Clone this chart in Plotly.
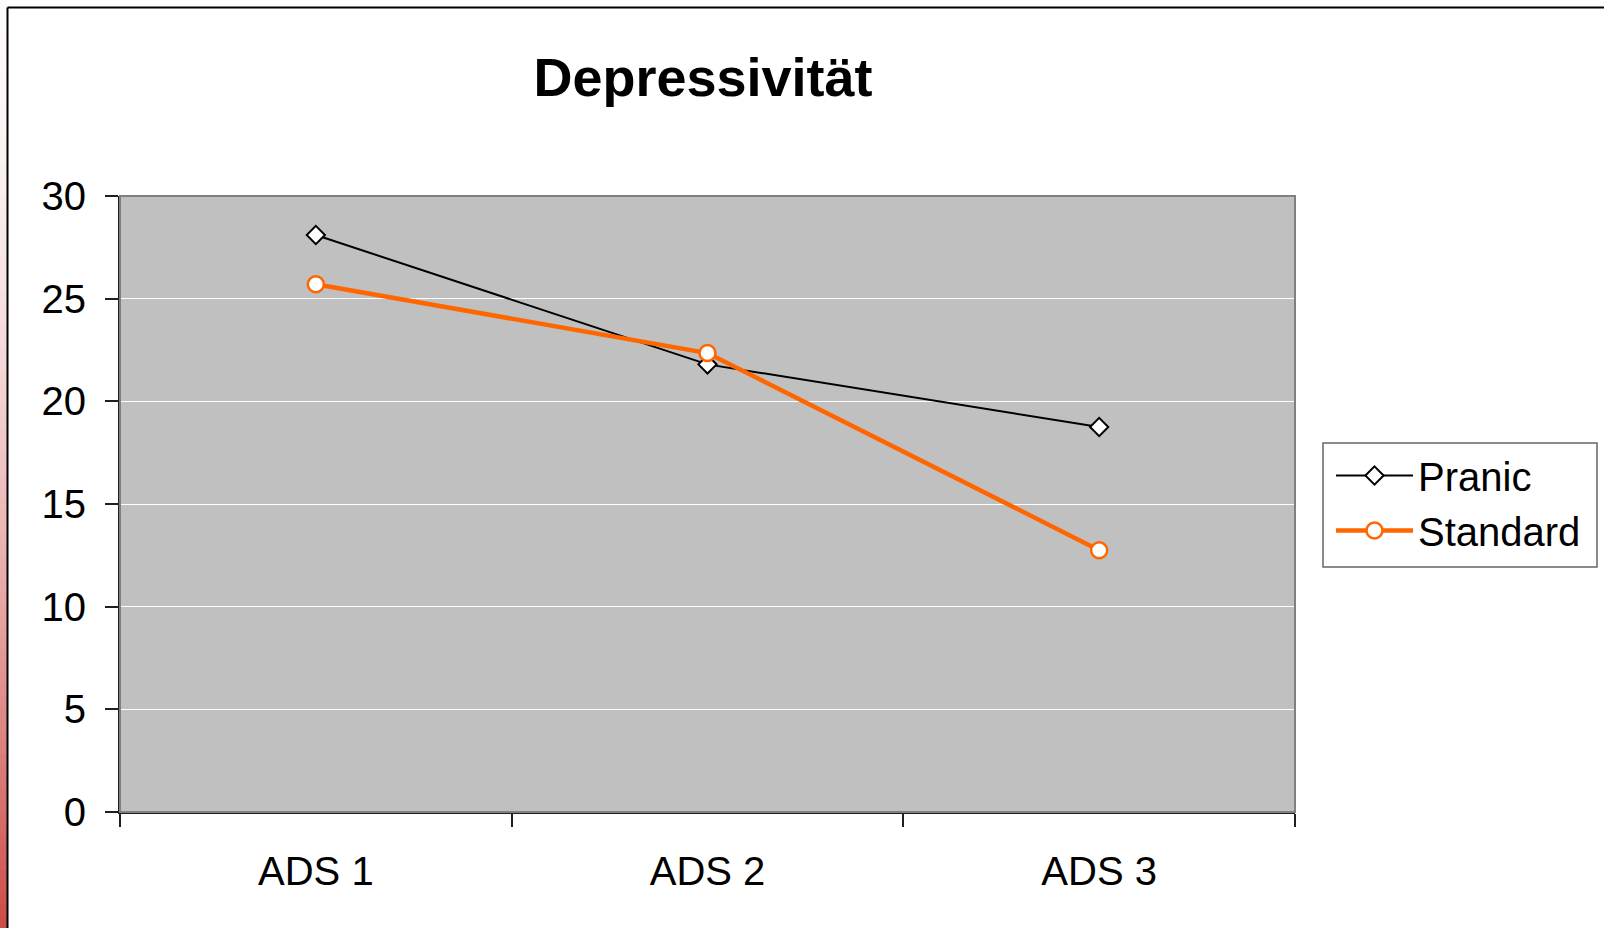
import plotly.graph_objects as go

categories = ["ADS 1", "ADS 2", "ADS 3"]
pranic = [28.1, 21.8, 18.75]
standard = [25.7, 22.35, 12.75]
y_ticks = [0, 5, 10, 15, 20, 25, 30]

W, H = 1604, 928
L, R, T, B = 120, 1295, 196, 812


def px(x):
    return (x - L) / (R - L)


def py(y):
    return (B - y) / (B - T)


fig = go.Figure()
fig.add_trace(go.Scatter(
    x=categories, y=pranic, name="Pranic", mode="lines+markers",
    line=dict(color="black", width=2),
    marker=dict(symbol="diamond", size=14, color="white",
                line=dict(color="black", width=2)),
))
fig.add_trace(go.Scatter(
    x=categories, y=standard, name="Standard", mode="lines+markers",
    line=dict(color="#FF6600", width=4.5),
    marker=dict(symbol="circle", size=16, color="white",
                line=dict(color="#FF6600", width=2.5)),
))

shapes = []
# left gradient strip
n = 80
for i in range(n):
    t = (i + 0.5) / n
    f = t ** 1.7
    r = int(round(253 - f * (253 - 205)))
    g = int(round(250 - f * (250 - 75)))
    b = int(round(250 - f * (250 - 70)))
    shapes.append(dict(type="rect", xref="paper", yref="paper",
                       x0=px(0), x1=px(7), y0=py(i * H / n), y1=py((i + 1) * H / n + 1),
                       fillcolor=f"rgb({r},{g},{b})", line=dict(width=0), layer="below"))
# outer border (top and left)
shapes.append(dict(type="line", xref="paper", yref="paper", x0=px(7.5), x1=px(7.5),
                   y0=py(7.5), y1=py(H + 5), line=dict(color="black", width=2)))
shapes.append(dict(type="line", xref="paper", yref="paper", x0=px(7.5), x1=px(W + 5),
                   y0=py(7.5), y1=py(7.5), line=dict(color="black", width=2)))
# plot area border (gray, top/right)
shapes.append(dict(type="rect", xref="paper", yref="paper", x0=0, x1=1, y0=0, y1=1,
                   line=dict(color="#808080", width=2), layer="above"))
# legend frame
shapes.append(dict(type="rect", xref="paper", yref="paper",
                   x0=px(1323), x1=px(1597), y0=py(567), y1=py(443),
                   fillcolor="white", line=dict(color="#666666", width=1.5), layer="above"))

fig.update_layout(
    width=W, height=H,
    margin=dict(l=L, r=W - R, t=T, b=H - B),
    paper_bgcolor="white",
    plot_bgcolor="#C0C0C0",
    font=dict(family="Liberation Sans, Arial, sans-serif", size=40, color="black"),
    title=dict(text="<b>Depressivität</b>", font=dict(size=54),
               x=703 / W, xanchor="center", xref="container",
               y=1 - 77 / H, yanchor="middle", yref="container"),
    showlegend=True,
    legend=dict(x=px(1331), y=py(443), xanchor="left", yanchor="top",
                borderwidth=0, bgcolor="rgba(0,0,0,0)",
                font=dict(size=40), itemwidth=77, tracegroupgap=0),
    shapes=shapes,
    xaxis=dict(type="category", range=[-0.5, 2.5], tickson="boundaries",
               ticks="outside", ticklen=13, tickwidth=1.5, tickcolor="#202020",
               showline=True, linecolor="#202020", linewidth=2,
               showgrid=False, zeroline=False, ticklabelstandoff=23),
    yaxis=dict(range=[0, 30], tickvals=y_ticks, ticks="outside", ticklen=13,
               tickwidth=1.5, tickcolor="#202020",
               showline=True, linecolor="#202020", linewidth=2,
               showgrid=True, gridcolor="white", gridwidth=1,
               zeroline=False, ticklabelstandoff=11),
)

fig.write_html(
    "out.html",
    config={"displayModeBar": False},
    post_script="document.body.style.margin='0';document.body.style.overflow='hidden';",
)
